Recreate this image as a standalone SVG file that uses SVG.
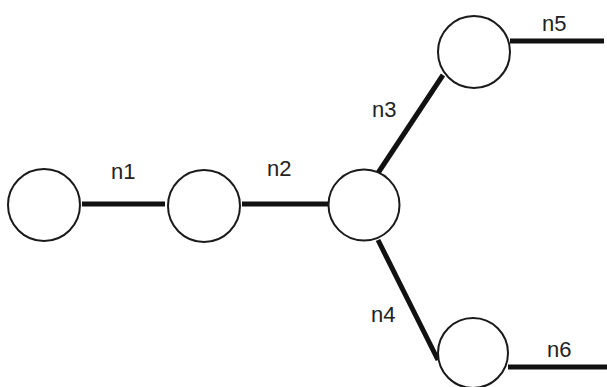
<svg xmlns="http://www.w3.org/2000/svg" width="607" height="387" viewBox="0 0 607 387">
<style>
.node{fill:#fff;stroke:#1a1a1a;stroke-width:2}
.edge{stroke:#111;stroke-width:5;fill:none}
.lbl{font-family:"Liberation Sans",Arial,sans-serif;font-size:22px;fill:#222}
</style>
<rect width="607" height="387" fill="#fff"/>
<g id="connectors">
<line class="edge" x1="82" y1="204" x2="165" y2="204"/>
<line class="edge" x1="242" y1="204" x2="328" y2="204"/>
<line class="edge" x1="378" y1="173" x2="443" y2="75"/>
<line class="edge" x1="378" y1="240" x2="438" y2="360"/>
<line class="edge" x1="510" y1="41" x2="604" y2="41"/>
<line class="edge" x1="508" y1="367" x2="607" y2="367"/>
</g>
<g id="node1"><circle class="node" cx="44" cy="205" r="36"/></g>
<g id="node2"><circle class="node" cx="204" cy="206" r="36"/></g>
<g id="node3"><circle class="node" cx="364" cy="205" r="35.5"/></g>
<g id="node4"><circle class="node" cx="474" cy="52" r="36"/></g>
<g id="node5"><circle class="node" cx="473" cy="353" r="35"/></g>
<g id="labels">
<text class="lbl" x="111" y="179">n1</text>
<text class="lbl" x="267" y="176">n2</text>
<text class="lbl" x="372" y="117">n3</text>
<text class="lbl" x="371" y="322">n4</text>
<text class="lbl" x="542" y="31">n5</text>
<text class="lbl" x="547" y="357">n6</text>
</g>
</svg>
